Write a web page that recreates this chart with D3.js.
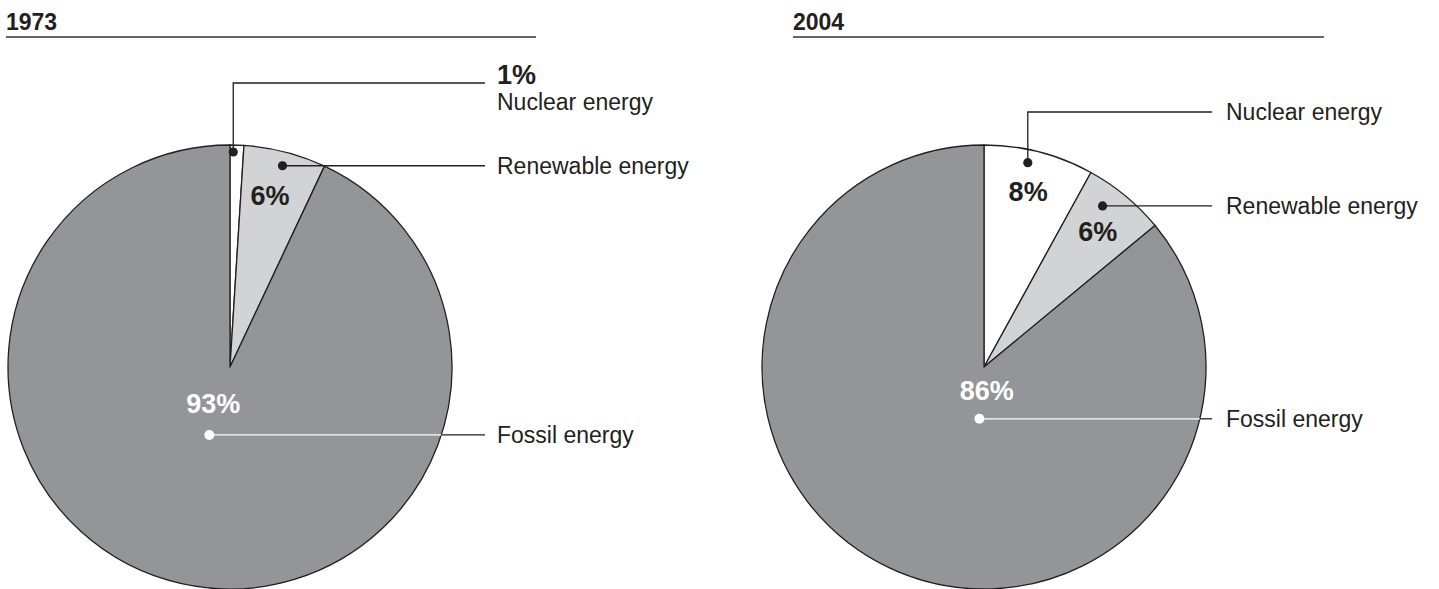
<!DOCTYPE html>
<html>
<head>
<meta charset="utf-8">
<script src="https://cdn.jsdelivr.net/npm/d3@7"></script>
<style>
  body { margin: 0; background: #fff; }
  text { font-family: "Liberation Sans", Arial, Helvetica, sans-serif; fill: #231f20; }
</style>
</head>
<body>
<svg id="chart" width="1439" height="589"></svg>
<script>
// data
const years = ["1973", "2004"];
const categories = ["Nuclear energy", "Renewable energy", "Fossil energy"];
const shares1973 = [1, 6, 93];
const shares2004 = [8, 6, 86];
const fills = ["#ffffff", "#d1d3d4", "#939598"];

// layout for each panel (annotation anchors are fractions along each slice + radius)
const layout = [
  { cx: 230, titleX: 6, ruleEnd: 536, lineEnd: 485, textX: 497, nucElbowY: 83,
    dots: [{t: 0.24, r: 215}, {t: 0.51, r: 208}, {t: 0.513, r: 71}],
    pcts: [null, {t: 0.44, r: 176}, {t: 0.536, r: 40}] },
  { cx: 984, titleX: 793, ruleEnd: 1324, lineEnd: 1212, textX: 1226, nucElbowY: 112,
    dots: [{t: 0.42, r: 209}, {t: 0.35, r: 200}, {t: 0.435, r: 52}],
    pcts: [{t: 0.49, r: 181}, {t: 0.52, r: 177}, {t: 0.397, r: 23}] }
];
const cy = 367, radius = 222;
const ink = "#231f20";

const svg = d3.select("#chart");
const pie = d3.pie().sort(null).value(d => d);
const arc = d3.arc().innerRadius(0).outerRadius(radius);

function polar(a, r) { return [r * Math.sin(a), -r * Math.cos(a)]; }

[shares1973, shares2004].forEach((vals, i) => {
  const L = layout[i];
  const arcs = pie(vals);

  // title + rule
  svg.append("text").attr("x", L.titleX).attr("y", 30)
    .style("font-size", "23px").style("font-weight", "bold").text(years[i]);
  svg.append("line").attr("x1", L.titleX).attr("x2", L.ruleEnd)
    .attr("y1", 37).attr("y2", 37).attr("stroke", "#666").attr("stroke-width", 1.8);

  const g = svg.append("g").attr("transform", `translate(${L.cx},${cy})`);

  g.selectAll("path.slice").data(arcs).join("path")
    .attr("class", "slice")
    .attr("d", arc)
    .attr("fill", (d, j) => fills[j])
    .attr("stroke", ink).attr("stroke-width", 1.3).attr("stroke-linejoin", "round");

  const at = (d, spec) => polar(d.startAngle + spec.t * (d.endAngle - d.startAngle), spec.r);

  arcs.forEach((d, j) => {
    const [dx, dy] = at(d, L.dots[j]);
    const endX = L.lineEnd - L.cx;
    if (j === 0) {
      const ey = L.nucElbowY - cy;
      g.append("path").attr("d", `M${dx},${dy}V${ey}H${endX}`)
        .attr("fill", "none").attr("stroke", ink).attr("stroke-width", 1.3);
    } else if (j === 1) {
      g.append("line").attr("x1", dx).attr("x2", endX).attr("y1", dy).attr("y2", dy)
        .attr("stroke", ink).attr("stroke-width", 1.3);
    } else {
      const edgeX = Math.sqrt(radius * radius - dy * dy);
      g.append("line").attr("x1", dx).attr("x2", edgeX).attr("y1", dy).attr("y2", dy)
        .attr("stroke", "#fff").attr("stroke-width", 1.3);
      g.append("line").attr("x1", edgeX).attr("x2", endX).attr("y1", dy).attr("y2", dy)
        .attr("stroke", ink).attr("stroke-width", 1.3);
    }
    g.append("circle").attr("cx", dx).attr("cy", dy).attr("r", j === 2 ? 5 : 4.6)
      .attr("fill", j === 2 ? "#fff" : ink);

    // category label
    const tx = L.textX - L.cx;
    let ly;
    if (j === 0) ly = (L.nucElbowY - cy) + (L.pcts[0] ? 8 : 27);
    else ly = dy + 8;
    g.append("text").attr("x", tx).attr("y", ly)
      .style("font-size", "23px").text(categories[j]);

    // percentage label
    const label = vals[j] + "%";
    if (L.pcts[j]) {
      const [px, py] = at(d, L.pcts[j]);
      g.append("text").attr("x", px).attr("y", py).attr("dy", "0.36em")
        .attr("text-anchor", "middle")
        .style("font-size", "27px").style("font-weight", "bold")
        .style("fill", j === 2 ? "#fff" : ink).text(label);
    } else {
      g.append("text").attr("x", tx).attr("y", L.nucElbowY - cy + 1)
        .style("font-size", "27px").style("font-weight", "bold").text(label);
    }
  });
});
</script>
</body>
</html>
